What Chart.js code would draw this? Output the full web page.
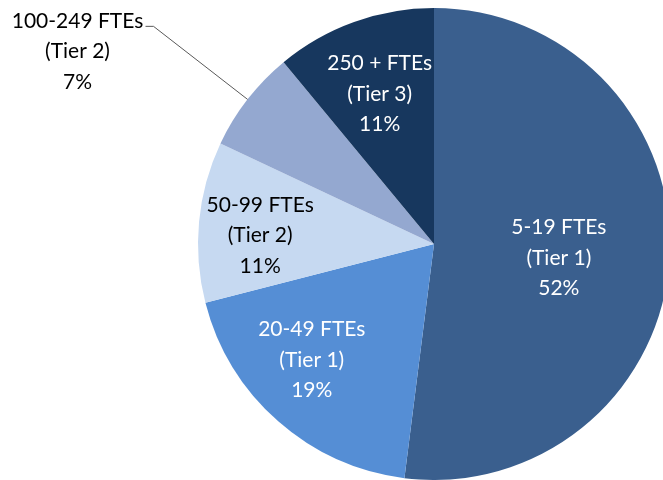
<!DOCTYPE html>
<html>
<head>
<meta charset="utf-8">
<script src="https://cdn.jsdelivr.net/npm/chart.js@4"></script>
<style>
  html, body { margin: 0; padding: 0; background: #fff; overflow: hidden; }
  #wrap { width: 680px; height: 480px; }
</style>
</head>
<body>
<div id="wrap"><canvas id="pieChart"></canvas></div>
<script>
// data
const categories = ["5-19 FTEs", "20-49 FTEs", "50-99 FTEs", "100-249 FTEs", "250 + FTEs"];
const tiers = ["(Tier 1)", "(Tier 1)", "(Tier 2)", "(Tier 2)", "(Tier 3)"];
const shares = [52, 19, 11, 7, 11];

const sliceColors = ["#3A5F8E", "#558ED5", "#C6D9F1", "#94A8D0", "#17375E"];
const textColors = ["#FFFFFF", "#FFFFFF", "#000000", "#000000", "#FFFFFF"];
// how far out from the centre each label sits (fraction of radius), null = outside label
const labelRadius = [0.53, 0.70, 0.74, null, 0.68];
// small pixel nudges so labels land where Excel put them
const labelNudge = [[0, 6], [-13, -8], [0, 8], [0, 0], [0, 1]];

const FONT = "21px Lato";
const LINE_H = 30.5;

// draws Excel-style data labels, with a leader line for the small slice
const sliceLabels = {
  id: "sliceLabels",
  afterDatasetsDraw(chart) {
    const ctx = chart.ctx;
    const meta = chart.getDatasetMeta(0);
    ctx.save();
    ctx.font = FONT;
    ctx.textAlign = "center";
    ctx.textBaseline = "middle";
    meta.data.forEach((arc, i) => {
      const p = arc.getProps(["x", "y", "startAngle", "endAngle", "outerRadius"], true);
      const mid = (p.startAngle + p.endAngle) / 2;
      const lines = [categories[i], tiers[i], shares[i] + "%"];
      let cx, cy;
      if (labelRadius[i] !== null) {
        cx = p.x + Math.cos(mid) * p.outerRadius * labelRadius[i];
        cy = p.y + Math.sin(mid) * p.outerRadius * labelRadius[i];
      } else {
        // outside label with leader line
        const ex = p.x + Math.cos(mid) * p.outerRadius;
        const ey = p.y + Math.sin(mid) * p.outerRadius;
        cx = ex - 170;
        cy = ey - 48;
        ctx.strokeStyle = "#595959";
        ctx.lineWidth = 1;
        ctx.beginPath();
        ctx.moveTo(ex, ey);
        ctx.lineTo(ex - 94, ey - 73);
        ctx.lineTo(ex - 102, ey - 73);
        ctx.stroke();
      }
      cx += labelNudge[i][0];
      cy += labelNudge[i][1];
      ctx.fillStyle = textColors[i];
      lines.forEach((t, k) => {
        ctx.fillText(t, cx, cy + (k - 1) * LINE_H);
      });
    });
    ctx.restore();
  }
};

new Chart(document.getElementById("pieChart").getContext("2d"), {
  type: "pie",
  data: {
    labels: categories,
    datasets: [
      {
        data: shares,
        backgroundColor: sliceColors,
        borderWidth: 0,
      },
    ],
  },
  options: {
    responsive: true,
    maintainAspectRatio: false,
    animation: false,
    layout: { padding: { top: 8, bottom: 0, left: 198, right: 10 } },
    plugins: {
      legend: { display: false },
      tooltip: { enabled: false },
    },
  },
  plugins: [sliceLabels],
});
</script>
</body>
</html>
